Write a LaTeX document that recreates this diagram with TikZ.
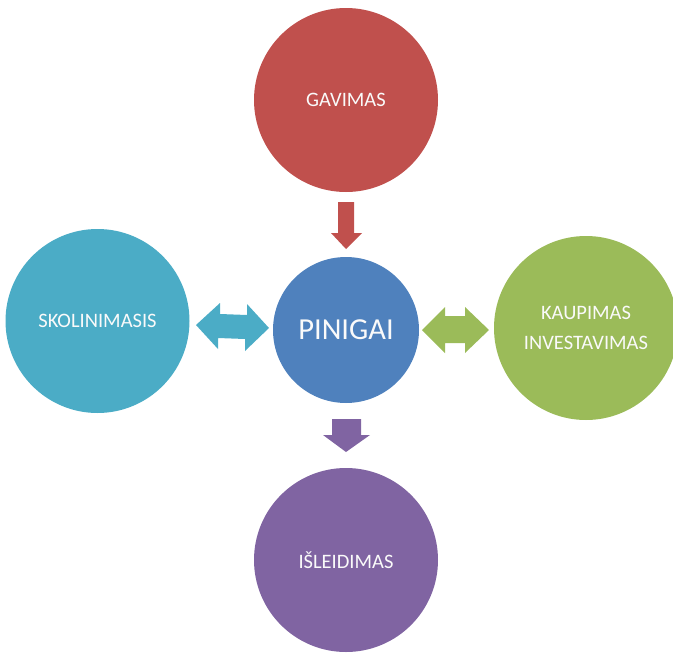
\documentclass[tikz,border=0pt]{standalone}
\usepackage{fontspec}
\setmainfont{Carlito}
\definecolor{cred}{RGB}{192,80,77}
\definecolor{cblue}{RGB}{79,129,189}
\definecolor{cteal}{RGB}{75,172,198}
\definecolor{cgreen}{RGB}{155,187,89}
\definecolor{cpurple}{RGB}{128,100,162}
\definecolor{ctext}{RGB}{250,250,250}
\begin{document}
\begin{tikzpicture}[x=1pt,y=-1pt,
  bubble/.style={circle,inner sep=0pt,minimum size=184pt,text=ctext,font=\fontsize{20.5}{30}\selectfont,align=center}]
\useasboundingbox (0,0) rectangle (673,654);
\clip (0,0) rectangle (673,654);
\node[bubble,fill=cred] (gav) at (346,100) {GAVIMAS};
\node[bubble,fill=cteal] (sko) at (97.5,321) {SKOLINIMASIS};
\node[bubble,fill=cgreen] (kau) at (586,328) {KAUPIMAS\\INVESTAVIMAS};
\node[bubble,fill=cpurple] (isl) at (346,560) {IŠLEIDIMAS};
\node[bubble,fill=cblue,minimum size=146pt,font=\fontsize{30.5}{34}\selectfont] (pin) at (346,330) {PINIGAI};
% red down arrow
\fill[cred] (338,202) -- (354,202) -- (354,233) -- (362,233) -- (346,249) -- (331,233) -- (338,233) -- cycle;
% purple down arrow
\fill[cpurple] (332,419) -- (361,419) -- (361,435) -- (370,435) -- (346,452) -- (323,435) -- (332,435) -- cycle;
% teal double arrow
\fill[cteal] (196,325) -- (220,303) -- (220,314) -- (247,315) -- (247,304) -- (269,328) -- (245,351) -- (245,339) -- (218,338) -- (218,349) -- cycle;
% green double arrow
\fill[cgreen] (422,330) -- (445,307) -- (445,316) -- (465,316) -- (465,307) -- (489,330) -- (465,353) -- (465,343) -- (445,343) -- (445,353) -- cycle;
\end{tikzpicture}
\end{document}
